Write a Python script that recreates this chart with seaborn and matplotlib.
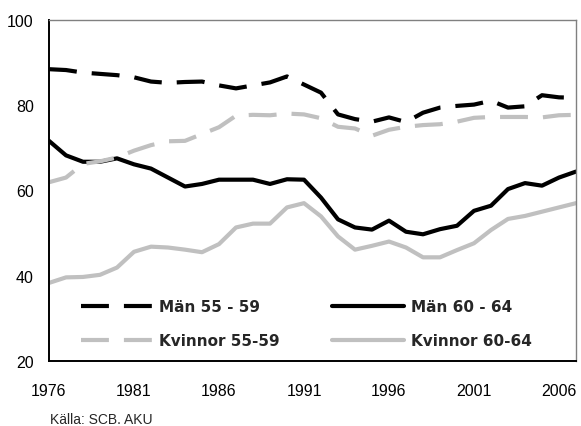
import matplotlib
matplotlib.use("Agg")
import matplotlib.pyplot as plt
import pandas as pd
import seaborn as sns

years = list(range(1976, 2008))
man_55_59 = [88.4, 88.2, 87.6, 87.3, 87.0, 86.5, 85.5, 85.2, 85.4, 85.5, 84.6, 83.9, 84.6, 85.3, 86.7, 84.8,
             82.9, 77.8, 76.7, 76.1, 77.1, 76.0, 78.2, 79.4, 79.8, 80.1, 81.0, 79.4, 79.7, 82.3, 81.8, 81.7]
man_60_64 = [71.6, 68.2, 66.7, 66.7, 67.5, 66.1, 65.1, 63.0, 60.9, 61.5, 62.5, 62.5, 62.5, 61.5, 62.6, 62.5,
             58.3, 53.2, 51.3, 50.8, 52.9, 50.3, 49.7, 50.9, 51.7, 55.2, 56.4, 60.3, 61.7, 61.1, 63.0, 64.4]
kvinnor_55_59 = [61.9, 63.0, 66.2, 66.8, 67.7, 69.3, 70.6, 71.5, 71.6, 73.2, 74.8, 77.5, 77.7, 77.6, 78.0, 77.8,
                 76.9, 74.9, 74.5, 72.8, 74.2, 74.9, 75.3, 75.5, 76.1, 77.0, 77.2, 77.2, 77.2, 77.1, 77.6, 77.7]
kvinnor_60_64 = [38.3, 39.6, 39.7, 40.2, 41.9, 45.6, 46.8, 46.6, 46.1, 45.5, 47.4, 51.3, 52.2, 52.2, 56.0, 57.0,
                 53.9, 49.2, 46.1, 47.0, 48.0, 46.6, 44.3, 44.3, 46.0, 47.6, 50.7, 53.3, 54.0, 55.0, 56.0, 57.0]
series_labels = ["Män 55 - 59", "Män 60 - 64", "Kvinnor 55-59", "Kvinnor 60-64"]
x_ticks = [1976, 1981, 1986, 1991, 1996, 2001, 2006]
y_ticks = [20, 40, 60, 80, 100]
source_text = "Källa: SCB. AKU"

sns.set_style("white")
plt.rcParams["font.family"] = ["Liberation Sans", "DejaVu Sans"]

wide = pd.DataFrame({
    "year": years,
    series_labels[0]: man_55_59,
    series_labels[1]: man_60_64,
    series_labels[2]: kvinnor_55_59,
    series_labels[3]: kvinnor_60_64,
})
df = wide.melt(id_vars="year", var_name="series", value_name="value")

BLACK = "#000000"
GREY = "#c0c0c0"
palette = {series_labels[0]: BLACK, series_labels[1]: BLACK,
           series_labels[2]: GREY, series_labels[3]: GREY}
dashes = {series_labels[0]: (6.7, 3.6), series_labels[1]: "",
          series_labels[2]: (6.7, 3.6), series_labels[3]: ""}

fig = plt.figure(figsize=(5.81, 4.27), dpi=100)
ax = fig.add_axes([49 / 581, (427 - 362) / 427, (576 - 49) / 581, (362 - 20.7) / 427])

sns.lineplot(data=df, x="year", y="value", hue="series", style="series",
             hue_order=series_labels, style_order=series_labels,
             palette=palette, dashes=dashes, linewidth=3.0, legend=False, ax=ax)

ax.set_xlim(1976, 2007)
ax.set_ylim(20, 100)
ax.set_xticks(x_ticks)
ax.set_yticks(y_ticks)
ax.set_xlabel("")
ax.set_ylabel("")

for side in ["left", "bottom"]:
    ax.spines[side].set_color("black")
    ax.spines[side].set_linewidth(1.4)
for side in ["top", "right"]:
    ax.spines[side].set_visible(True)
    ax.spines[side].set_color("#808080")
    ax.spines[side].set_linewidth(1.0)

ax.tick_params(axis="both", direction="inout", length=8, width=1, colors="black", labelsize=11.5)
ax.tick_params(axis="x", pad=12)
ax.tick_params(axis="y", pad=7)

lines = ax.get_lines()
handles = [lines[0], lines[2], lines[1], lines[3]]
labels = [series_labels[0], series_labels[2], series_labels[1], series_labels[3]]
ax.legend(handles, labels, ncol=2, loc="lower left", bbox_to_anchor=(0.06, 0.038),
          frameon=False, prop={"family": "DejaVu Sans", "weight": "bold", "size": 11},
          handlelength=4.7, handletextpad=0.45, columnspacing=3.4, labelspacing=1.25,
          borderpad=0, borderaxespad=0)

fig.text(50 / 581, 3 / 427, source_text, fontsize=10, ha="left", va="baseline")

fig.savefig("out.png", dpi=100)
